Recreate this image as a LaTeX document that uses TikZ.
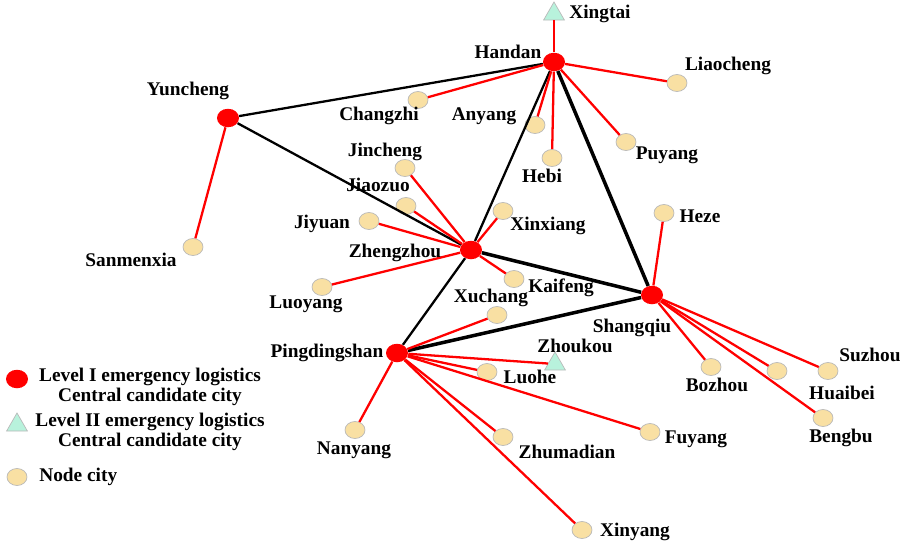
\documentclass[tikz,border=0pt]{standalone}
\usepackage{fontspec}
\setmainfont{Liberation Serif}
\usepackage{tikz}
\usetikzlibrary{shapes.geometric}

\definecolor{citysand}{RGB}{249,224,163}
\definecolor{levelmint}{RGB}{184,242,220}
\definecolor{rimgray}{RGB}{185,185,185}

\tikzset{
	hub/.style={ellipse, fill=red, inner sep=0pt, minimum width=4.4mm, minimum height=3.7mm},
	subhub/.style={regular polygon, regular polygon sides=3, fill=levelmint, draw=rimgray, inner sep=0pt, minimum size=4.8mm},
	city/.style={ellipse, fill=citysand, draw=rimgray, inner sep=0pt, minimum width=4mm, minimum height=3.4mm},
	lbl/.style={inner sep=0pt, font=\fontsize{11}{11}\selectfont\bfseries},
	trunk/.style={black, line width=1.3pt},
	maintrunk/.style={black, line width=2pt},
	feeder/.style={red, line width=1.3pt}
}

\begin{document}
\begin{tikzpicture}[x=0.2mm, y=-0.2mm]
		\useasboundingbox (0,0) rectangle (907,543);

		% Level I centres.
		\node[hub] (handan) at (554,62) {};
		\node[hub] (yuncheng) at (228,118) {};
		\node[hub] (zhengzhou) at (471,250) {};
		\node[hub] (shangqiu) at (652,295) {};
		\node[hub] (pingdingshan) at (397,353) {};

		% Level II centres.
		\node[subhub] (xingtai) at (554,14) {};
		\node[subhub] (zhoukou) at (555,364) {};

		% Node cities.
		\node[city] (liaocheng) at (677,83) {};
		\node[city] (changzhi) at (418,100) {};
		\node[city] (anyang) at (535,125) {};
		\node[city] (hebi) at (552,158) {};
		\node[city] (puyang) at (626,142) {};
		\node[city] (jincheng) at (405,168) {};
		\node[city] (jiaozuo) at (406,206) {};
		\node[city] (jiyuan) at (369,221) {};
		\node[city] (xinxiang) at (503,211) {};
		\node[city] (sanmenxia) at (193,247) {};
		\node[city] (luoyang) at (322,287) {};
		\node[city] (kaifeng) at (514,279) {};
		\node[city] (xuchang) at (497,315) {};
		\node[city] (heze) at (664,213) {};
		\node[city] (luohe) at (487,372) {};
		\node[city] (bozhou) at (711,367) {};
		\node[city] (huaibei) at (777,371) {};
		\node[city] (suzhou) at (828,371) {};
		\node[city] (bengbu) at (823,418) {};
		\node[city] (nanyang) at (355,430) {};
		\node[city] (zhumadian) at (503,437) {};
		\node[city] (fuyang) at (650,432) {};
		\node[city] (xinyang) at (582,530) {};

		% Trunk lines.
		\draw[trunk] (handan) -- (yuncheng) -- (zhengzhou) -- (handan);
		\draw[trunk] (zhengzhou) -- (pingdingshan);
		\draw[maintrunk] (handan) -- (shangqiu) -- (zhengzhou);
		\draw[maintrunk] (pingdingshan) -- (shangqiu);

		% Feeder lines.
		\foreach \c in {xingtai,changzhi,liaocheng,anyang,hebi,puyang}
			\draw[feeder] (handan) -- (\c);
		\draw[feeder] (yuncheng) -- (sanmenxia);
		\foreach \c in {jincheng,jiaozuo,jiyuan,xinxiang,luoyang,kaifeng}
			\draw[feeder] (zhengzhou) -- (\c);
		\foreach \c in {heze,bozhou,huaibei,suzhou,bengbu}
			\draw[feeder] (shangqiu) -- (\c);
		\foreach \c in {xuchang,zhoukou,luohe,nanyang,zhumadian,fuyang,xinyang}
			\draw[feeder] (pingdingshan) -- (\c);

		% City names.
		\node[lbl] (handanL) at (508,52) {Handan};
		\node[lbl] (xingtaiL) at (600,14) {Xingtai};
		\node[lbl] (liaochengL) at (728,66) {Liaocheng};
		\node[lbl] (anyangL) at (484,116) {Anyang};
		\node[lbl] (hebiL) at (542,176) {Hebi};
		\node[lbl] (puyangL) at (667,155) {Puyang};
		\node[lbl] (hezeL) at (700,216) {Heze};
		\node[lbl] (xinxiangL) at (548,226) {Xinxiang};
		\node[lbl] (yunchengL) at (188,91) {Yuncheng};
		\node[lbl] (changzhiL) at (379,116) {Changzhi};
		\node[lbl] (jinchengL) at (385,152) {Jincheng};
		\node[lbl] (jiaozuoL) at (378,185) {Jiaozuo};
		\node[lbl] (jiyuanL) at (322,224) {Jiyuan};
		\node[lbl] (zhengzhouL) at (395,253) {Zhengzhou};
		\node[lbl] (sanmenxiaL) at (131,260) {Sanmenxia};
		\node[lbl] (luoyangL) at (306,304) {Luoyang};
		\node[lbl] (kaifengL) at (561,288) {Kaifeng};
		\node[lbl] (xuchangL) at (491,298) {Xuchang};
		\node[lbl] (shangqiuL) at (632,328) {Shangqiu};
		\node[lbl] (zhoukouL) at (575,346) {Zhoukou};
		\node[lbl] (pingdingshanL) at (327,353) {Pingdingshan};
		\node[lbl] (luoheL) at (530,377) {Luohe};
		\node[lbl] (bozhouL) at (717,385) {Bozhou};
		\node[lbl] (suzhouL) at (870,355) {Suzhou};
		\node[lbl] (huaibeiL) at (842,393) {Huaibei};
		\node[lbl] (bengbuL) at (841,438) {Bengbu};
		\node[lbl] (nanyangL) at (354,450) {Nanyang};
		\node[lbl] (fuyangL) at (696,439) {Fuyang};
		\node[lbl] (zhumadianL) at (567,452) {Zhumadian};
		\node[lbl] (xinyangL) at (635,532) {Xinyang};

		% Legend.
		\node[hub] (keyhub) at (17,379) {};
		\node[lbl, align=center] (keyhubL) at (150,387) {Level I emergency logistics\\Central candidate city};
		\node[subhub] (keysub) at (17,425) {};
		\node[lbl, align=center] (keysubL) at (150,432) {Level II emergency logistics\\Central candidate city};
		\node[city] (keycity) at (17,477) {};
		\node[lbl, anchor=west] (keycityL) at (39,477) {Node city};

	\end{tikzpicture}
\end{document}
